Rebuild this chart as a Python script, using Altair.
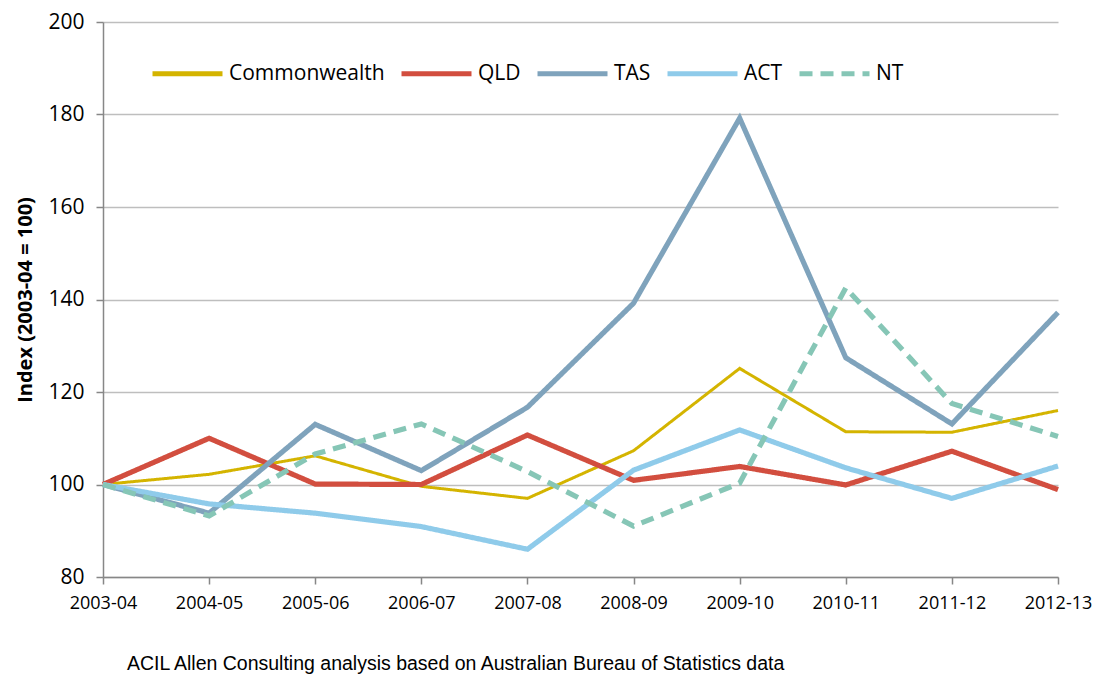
import altair as alt
import pandas as pd

years = ["2003-04", "2004-05", "2005-06", "2006-07", "2007-08",
         "2008-09", "2009-10", "2010-11", "2011-12", "2012-13"]
series_names = ["Commonwealth", "QLD", "TAS", "ACT", "NT"]
commonwealth = [100, 102.2, 106.2, 99.6, 97.0, 107.3, 125.1, 111.4, 111.3, 116.0]
qld = [100, 110.0, 100.1, 100.0, 110.7, 100.9, 103.9, 99.9, 107.2, 98.9]
tas = [100, 93.8, 113.0, 103.0, 116.7, 139.2, 179.2, 127.4, 113.1, 137.2]
act = [100, 95.8, 93.8, 90.9, 86.0, 103.1, 111.8, 103.6, 97.0, 104.0]
nt = [100, 93.2, 106.6, 113.1, 102.8, 91.0, 100.3, 142.5, 117.5, 110.4]

colors = ["#D4B400", "#D24E3F", "#7FA3BC", "#8FCBEA", "#86C6B6"]
dashes = [[1, 0], [1, 0], [1, 0], [1, 0], [13, 8]]

rows = []
for name, vals in zip(series_names, [commonwealth, qld, tas, act, nt]):
    for y, v in zip(years, vals):
        rows.append({"year": y, "value": v, "series": name})
df = pd.DataFrame(rows)

FONT = "Open Sans"

legend = alt.Legend(title=None, orient="none", direction="horizontal",
                    legendX=47, legendY=14,
                    symbolType="stroke", symbolSize=4900, symbolStrokeWidth=5,
                    labelFont=FONT, labelFontSize=21,
                    labelColor="#000000", labelOffset=4,
                    columnPadding=6)

x_enc = alt.X("year:N", sort=years,
              scale=alt.Scale(type="point", padding=0),
              axis=alt.Axis(title=None, labelAngle=0, grid=False,
                            domainColor="#878787", domainWidth=1.5,
                            tickColor="#878787", tickWidth=1.5,
                            tickSize=7, labelFont=FONT, labelFontSize=18,
                            labelColor="#000000", labelPadding=10))
y_enc = alt.Y("value:Q",
              scale=alt.Scale(domain=[80, 200], nice=False, zero=False),
              axis=alt.Axis(title="Index (2003-04 = 100)", values=list(range(80, 201, 20)),
                            grid=True, gridColor="#BEBEBE", gridWidth=1.5,
                            domainColor="#878787", domainWidth=1.5,
                            tickColor="#878787", tickWidth=1.5, tickSize=7,
                            labelFont=FONT, labelFontSize=21, labelColor="#000000",
                            labelPadding=12,
                            titleFont=FONT, titleFontSize=20, titleFontWeight="bold",
                            titleColor="#000000", titlePadding=12))
color_enc = alt.Color("series:N", sort=series_names,
                      scale=alt.Scale(domain=series_names, range=colors),
                      legend=legend)
dash_enc = alt.StrokeDash("series:N", sort=series_names,
                          scale=alt.Scale(domain=series_names, range=dashes),
                          legend=legend)

base = alt.Chart(df).encode(x=x_enc, y=y_enc, color=color_enc, strokeDash=dash_enc)

thick = base.mark_line(strokeWidth=5.2, strokeCap="butt", strokeJoin="miter").transform_filter(
    alt.datum.series != "Commonwealth")
thin = base.mark_line(strokeWidth=3.0, strokeCap="butt", strokeJoin="miter").transform_filter(
    alt.datum.series == "Commonwealth")

chart = alt.layer(thin, thick).properties(
    width=955,
    height=555,
    title=alt.TitleParams(
        text="ACIL Allen Consulting analysis based on Australian Bureau of Statistics data",
        orient="bottom", anchor="start", frame="group", dx=24, offset=43,
        font="Liberation Sans", fontSize=19.5, fontWeight="normal", color="#000000"),
    autosize=alt.AutoSizeParams(type="none"),
    padding={"left": 95, "top": 14, "right": 38, "bottom": 100},
).configure_view(stroke=None)

chart.save("out.html", embed_options={"renderer": "svg", "actions": False})
